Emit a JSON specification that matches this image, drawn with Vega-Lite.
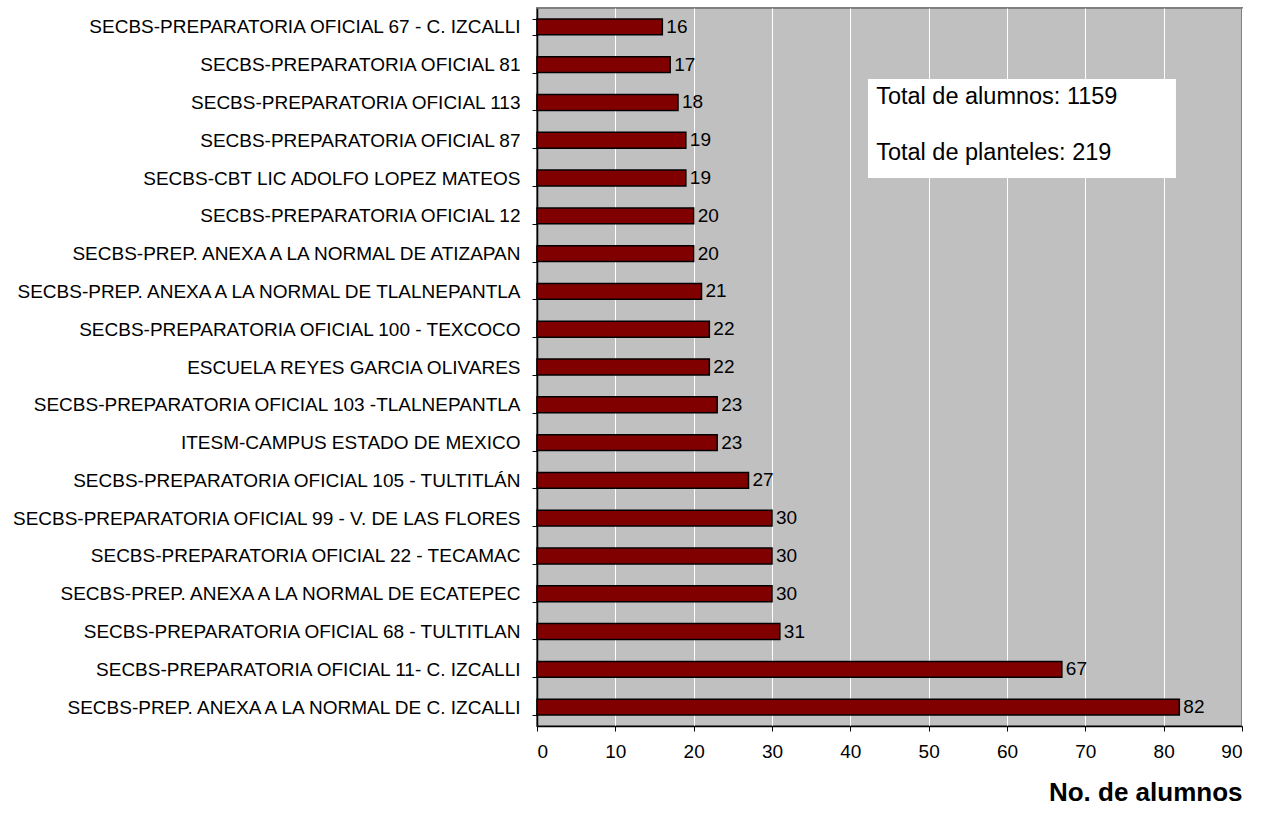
{
  "$schema": "https://vega.github.io/schema/vega-lite/v6.json",
  "width": 705,
  "height": 718,
  "autosize": {"type": "none"},
  "padding": {"left": 537, "top": 8, "right": 25, "bottom": 87},
  "background": "white",
  "config": {
    "font": "Liberation Sans",
    "view": {"fill": "#C0C0C0", "stroke": "#808080", "strokeWidth": 2}
  },
  "datasets": {
    "schools": [
      {"escuela": "SECBS-PREPARATORIA OFICIAL 67 - C. IZCALLI", "alumnos": 16},
      {"escuela": "SECBS-PREPARATORIA OFICIAL 81", "alumnos": 17},
      {"escuela": "SECBS-PREPARATORIA OFICIAL 113", "alumnos": 18},
      {"escuela": "SECBS-PREPARATORIA OFICIAL 87", "alumnos": 19},
      {"escuela": "SECBS-CBT LIC ADOLFO LOPEZ MATEOS", "alumnos": 19},
      {"escuela": "SECBS-PREPARATORIA OFICIAL 12", "alumnos": 20},
      {"escuela": "SECBS-PREP. ANEXA A LA NORMAL DE ATIZAPAN ", "alumnos": 20},
      {"escuela": "SECBS-PREP. ANEXA A LA NORMAL DE TLALNEPANTLA", "alumnos": 21},
      {"escuela": "SECBS-PREPARATORIA OFICIAL 100 - TEXCOCO", "alumnos": 22},
      {"escuela": "ESCUELA REYES GARCIA OLIVARES", "alumnos": 22},
      {"escuela": "SECBS-PREPARATORIA OFICIAL 103 -TLALNEPANTLA", "alumnos": 23},
      {"escuela": "ITESM-CAMPUS ESTADO DE MEXICO", "alumnos": 23},
      {"escuela": "SECBS-PREPARATORIA OFICIAL 105 - TULTITLÁN", "alumnos": 27},
      {"escuela": "SECBS-PREPARATORIA OFICIAL 99 - V. DE LAS FLORES", "alumnos": 30},
      {"escuela": "SECBS-PREPARATORIA OFICIAL 22 - TECAMAC", "alumnos": 30},
      {"escuela": "SECBS-PREP. ANEXA A LA NORMAL DE ECATEPEC", "alumnos": 30},
      {"escuela": "SECBS-PREPARATORIA OFICIAL 68 - TULTITLAN", "alumnos": 31},
      {"escuela": "SECBS-PREPARATORIA OFICIAL 11- C. IZCALLI", "alumnos": 67},
      {"escuela": "SECBS-PREP. ANEXA A LA NORMAL DE C. IZCALLI", "alumnos": 82}
    ],
    "totals": [
      {"texto1": "Total de alumnos: 1159", "texto2": "Total de planteles: 219"}
    ]
  },
  "layer": [
    {
      "data": {"name": "schools"},
      "layer": [
        {
          "mark": {"type": "bar", "fill": "#800000", "stroke": "#000000", "strokeWidth": 1.5},
          "encoding": {
            "y": {
              "field": "escuela", "type": "nominal", "sort": null,
              "scale": {"paddingInner": 0.58, "paddingOuter": 0.29},
              "axis": {
                "title": null, "domainColor": "#000000", "domainWidth": 1.5,
                "tickColor": "#000000", "tickSize": 5, "tickBand": "extent",
                "labelFontSize": 19, "labelColor": "#000000", "labelPadding": 12,
                "labelLimit": 600, "grid": false
              }
            },
            "x": {
              "field": "alumnos", "type": "quantitative",
              "scale": {"domain": [0, 90], "nice": false},
              "axis": {
                "values": [0, 10, 20, 30, 40, 50, 60, 70, 80, 90],
                "title": "No. de alumnos", "titleFontSize": 26, "titleFontWeight": "bold",
                "titleColor": "#000000", "titleAnchor": "end", "titlePadding": 18,
                "domainColor": "#000000", "domainWidth": 1.5,
                "tickColor": "#000000", "tickSize": 5,
                "labelFontSize": 19, "labelColor": "#000000", "labelPadding": 11,
                "grid": true, "gridColor": "#FFFFFF", "gridWidth": 1
              }
            }
          }
        },
        {
          "mark": {"type": "text", "align": "left", "baseline": "middle", "dx": 4, "fontSize": 19, "color": "#000000"},
          "encoding": {
            "y": {"field": "escuela", "type": "nominal", "sort": null},
            "x": {"field": "alumnos", "type": "quantitative"},
            "text": {"field": "alumnos", "type": "quantitative"}
          }
        }
      ]
    },
    {
      "data": {"name": "totals"},
      "layer": [
        {
          "mark": {"type": "rect", "fill": "#FFFFFF"},
          "encoding": {
            "x": {"datum": 42.26, "type": "quantitative"},
            "x2": {"datum": 81.57},
            "y": {"datum": 1.88, "type": "quantitative", "scale": {"domain": [0, 19], "reverse": true, "nice": false}, "axis": null},
            "y2": {"datum": 4.5}
          }
        },
        {
          "mark": {"type": "text", "align": "left", "baseline": "alphabetic", "fontSize": 23.5, "color": "#000000"},
          "encoding": {
            "x": {"datum": 43.3, "type": "quantitative"},
            "y": {"datum": 2.54, "type": "quantitative"},
            "text": {"field": "texto1"}
          }
        },
        {
          "mark": {"type": "text", "align": "left", "baseline": "alphabetic", "fontSize": 23.5, "color": "#000000"},
          "encoding": {
            "x": {"datum": 43.3, "type": "quantitative"},
            "y": {"datum": 4.02, "type": "quantitative"},
            "text": {"field": "texto2"}
          }
        }
      ]
    }
  ],
  "resolve": {"scale": {"y": "independent"}}
}
